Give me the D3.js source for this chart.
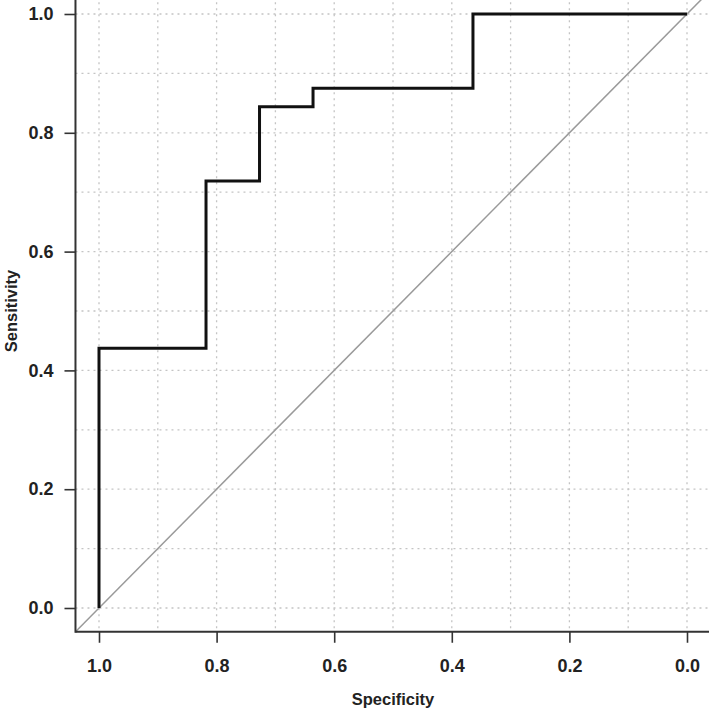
<!DOCTYPE html>
<html>
<head>
<meta charset="utf-8">
<script src="https://cdn.jsdelivr.net/npm/d3@7"></script>
<style>
  html, body { margin: 0; padding: 0; background: #fff; }
  svg { display: block; }
  text { font-family: "Liberation Sans", Arial, Helvetica, sans-serif; fill: #222; }
</style>
</head>
<body>
<svg id="chart" width="709" height="711"></svg>
<script>
// Data
const specificity = [1.0, 1.0, 0.818, 0.818, 0.727, 0.727, 0.636, 0.636, 0.364, 0.364, 0.0];
const sensitivity = [0.0, 0.4375, 0.4375, 0.71875, 0.71875, 0.84375, 0.84375, 0.875, 0.875, 1.0, 1.0];
const xTicks = [1.0, 0.8, 0.6, 0.4, 0.2, 0.0];
const yTicks = [0.0, 0.2, 0.4, 0.6, 0.8, 1.0];
const gridValues = [0, 0.1, 0.2, 0.3, 0.4, 0.5, 0.6, 0.7, 0.8, 0.9, 1.0];
const xLabel = "Specificity";
const yLabel = "Sensitivity";

const W = 709, H = 711;
const svg = d3.select("#chart");

// R-style 4% extended domain, reversed specificity
const x = d3.scaleLinear().domain([1, 0]).range([99, 687]);
const y = d3.scaleLinear().domain([0, 1]).range([608, 14]);
const xLeft = x(1.04), xRight = x(-0.04);
const yBottom = y(-0.04), yTop = y(1.04);

svg.append("defs").append("clipPath").attr("id", "plotclip")
  .append("rect").attr("x", xLeft).attr("y", yTop)
  .attr("width", xRight - xLeft).attr("height", yBottom - yTop);

const plot = svg.append("g").attr("clip-path", "url(#plotclip)");

// grid
plot.selectAll("line.gv").data(gridValues).join("line")
  .attr("class", "gv")
  .attr("x1", d => x(d)).attr("x2", d => x(d))
  .attr("y1", yTop).attr("y2", yBottom)
  .attr("stroke", "#c4c4c4").attr("stroke-width", 1.3)
  .attr("stroke-dasharray", "2,4");
plot.selectAll("line.gh").data(gridValues).join("line")
  .attr("class", "gh")
  .attr("x1", xLeft).attr("x2", xRight)
  .attr("y1", d => y(d)).attr("y2", d => y(d))
  .attr("stroke", "#c4c4c4").attr("stroke-width", 1.3)
  .attr("stroke-dasharray", "2,4");

// identity diagonal
plot.append("line")
  .attr("x1", x(1.04)).attr("y1", y(-0.04))
  .attr("x2", x(-0.06)).attr("y2", y(1.06))
  .attr("stroke", "#9a9a9a").attr("stroke-width", 1.5);

// ROC curve
const pts = specificity.map((s, i) => [s, sensitivity[i]]);
plot.append("path")
  .datum(pts)
  .attr("d", d3.line().x(d => x(d[0])).y(d => y(d[1])))
  .attr("fill", "none")
  .attr("stroke", "#111")
  .attr("stroke-width", 3)
  .attr("stroke-linejoin", "miter");

// axes
const xAxis = d3.axisBottom(x).tickValues(xTicks).tickFormat(d3.format(".1f"))
  .tickSize(11).tickSizeOuter(0).tickPadding(16);
const yAxis = d3.axisLeft(y).tickValues(yTicks).tickFormat(d3.format(".1f"))
  .tickSize(11).tickSizeOuter(0).tickPadding(11);

const gx = svg.append("g").attr("transform", `translate(0,${yBottom})`).call(xAxis);
const gy = svg.append("g").attr("transform", `translate(${xLeft},0)`).call(yAxis);

[gx, gy].forEach(g => {
  g.select(".domain").remove();
  g.selectAll(".tick line").attr("stroke", "#333").attr("stroke-width", 1.6);
  g.selectAll(".tick text")
    .style("font-size", "18px").style("font-weight", "bold")
    .attr("fill", "#222");
});

// axis lines spanning the full plot region
svg.append("line").attr("x1", xLeft).attr("x2", W).attr("y1", yBottom).attr("y2", yBottom)
  .attr("stroke", "#333").attr("stroke-width", 2);
svg.append("line").attr("x1", xLeft).attr("x2", xLeft).attr("y1", 0).attr("y2", yBottom + 1)
  .attr("stroke", "#333").attr("stroke-width", 2);

// axis titles
svg.append("text")
  .attr("x", (xLeft + xRight) / 2).attr("y", 704.5)
  .attr("text-anchor", "middle")
  .style("font-size", "16.5px").style("font-weight", "bold")
  .text(xLabel);
svg.append("text")
  .attr("transform", `translate(17,${(yTop + yBottom) / 2}) rotate(-90)`)
  .attr("text-anchor", "middle")
  .style("font-size", "16.5px").style("font-weight", "bold")
  .text(yLabel);
</script>
</body>
</html>
